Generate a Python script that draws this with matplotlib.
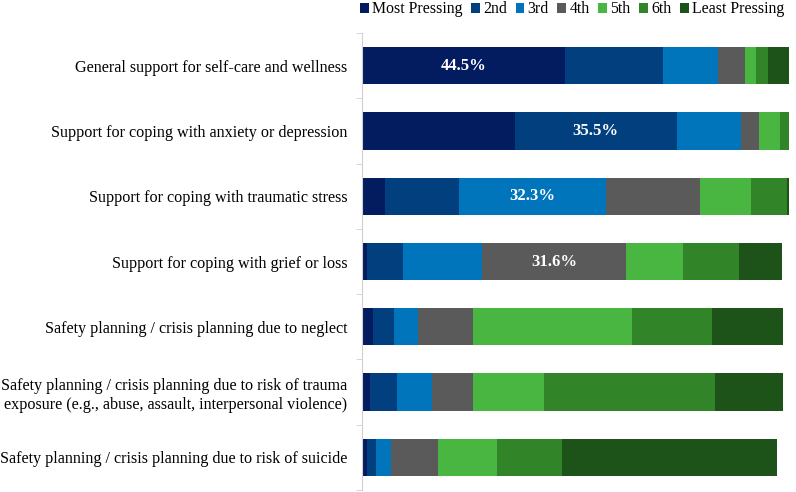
import numpy as np
import matplotlib.pyplot as plt

# ranking of support needs (share of respondents, %)
categories = [
    "General support for self-care and wellness",
    "Support for coping with anxiety or depression",
    "Support for coping with traumatic stress",
    "Support for coping with grief or loss",
    "Safety planning / crisis planning due to neglect",
    "Safety planning / crisis planning due to risk of trauma\nexposure (e.g., abuse, assault, interpersonal violence)",
    "Safety planning / crisis planning due to risk of suicide",
]
ranks = ["Most Pressing", "2nd", "3rd", "4th", "5th", "6th", "Least Pressing"]

most_pressing = [44.5, 33.5, 5.1, 1.1, 2.5, 1.8, 1.1]
second = [21.4, 35.5, 16.2, 7.8, 4.5, 5.8, 2.0]
third = [12.2, 14.2, 32.3, 17.5, 5.3, 7.7, 3.3]
fourth = [5.8, 3.9, 20.6, 31.6, 12.1, 9.1, 10.2]
fifth = [2.6, 4.5, 11.0, 12.3, 34.9, 15.6, 13.0]
sixth = [2.6, 2.0, 7.9, 12.3, 17.5, 37.5, 14.3]
least_pressing = [4.5, 0.0, 0.5, 9.6, 15.5, 14.8, 47.1]

# which segment gets a value label, per bar
labelled = [0, 1, 2, 3, None, None, None]

series = [most_pressing, second, third, fourth, fifth, sixth, least_pressing]
colors = ["#031b5f", "#013f7e", "#0075bc", "#5a5a5a", "#4ab642", "#328429", "#1d5318"]

plt.rcParams['font.family'] = ['Liberation Serif', 'DejaVu Serif']

fig = plt.figure(figsize=(7.96, 4.92), dpi=100)
ax = fig.add_axes([362 / 796, 2 / 492, 434 / 796, 457 / 492])

y = np.arange(len(categories))
left = np.zeros(len(categories))
for i, (vals, col, name) in enumerate(zip(series, colors, ranks)):
    vals = np.array(vals)
    ax.barh(y, vals, left=left, height=0.57, color=col, label=name, edgecolor='none')
    for j, k in enumerate(labelled):
        if k == i:
            ax.text(left[j] + vals[j] / 2, y[j], f"{vals[j]:.1f}%", color='white',
                    fontsize=12, fontweight='bold', ha='center', va='center')
    left += vals

ax.set_xlim(0, 434 / 4.56)
ax.set_ylim(len(categories) - 0.5, -0.5)
ax.set_yticks(y)
ax.set_yticklabels(categories, fontsize=11.6, linespacing=1.25)
ax.set_yticks(np.arange(len(categories) + 1) - 0.5, minor=True)
ax.tick_params(axis='y', which='major', length=0, pad=10.5)
ax.tick_params(axis='y', which='minor', length=4, color='#d0d0d0')
ax.set_xticks([])
for s in ['top', 'right', 'bottom']:
    ax.spines[s].set_visible(False)
ax.spines['left'].set_color('#d0d0d0')

fig.legend(loc='upper left', bbox_to_anchor=(360 / 796, 0.997), ncol=7, frameon=False,
           fontsize=11.4, handlelength=0.55, handleheight=0.55, handletextpad=0.2,
           columnspacing=0.55, borderpad=0, borderaxespad=0)

plt.savefig("out.png", dpi=100)
